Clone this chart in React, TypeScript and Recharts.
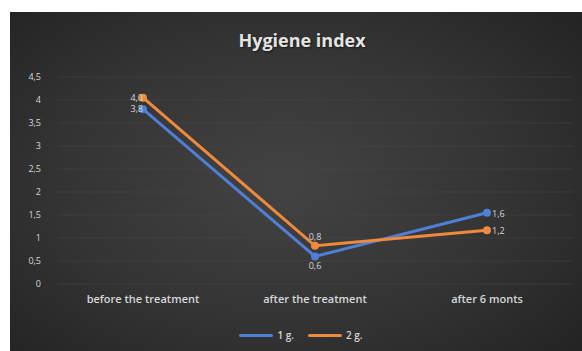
import {
  CartesianGrid,
  LabelList,
  Line,
  LineChart,
  XAxis,
  YAxis,
} from "recharts";

// Hygiene index per group.
const categories = ["before the treatment", "after the treatment", "after 6 monts"];
const group1 = [3.8, 0.6, 1.55];
const group2 = [4.05, 0.83, 1.17];
const yTicks = [0, 0.5, 1, 1.5, 2, 2.5, 3, 3.5, 4, 4.5];

const BLUE = "#4f7fd6";
const ORANGE = "#f08a3c";
const TEXT = "#d6d6d6";
const FONT = "'Open Sans', 'Liberation Sans', sans-serif";

const data = categories.map((c, i) => ({
  name: c,
  g1: group1[i],
  g2: group2[i],
}));

const comma = (v: number) => String(v).replace(".", ",");

function makeLabel(below: boolean) {
  return (props: any) => {
    const { x, y, value, index } = props;
    let dx = 0;
    let dy = below ? 13 : -6;
    let anchor: "start" | "middle" | "end" = "middle";
    if (index === 0) {
      dx = 0;
      dy = 3;
      anchor = "end";
    } else if (index === 2) {
      dx = 5;
      dy = 4;
      anchor = "start";
    }
    return (
      <text
        x={x + dx}
        y={y + dy}
        textAnchor={anchor}
        fill={TEXT}
        fontSize={9}
        fontFamily={FONT}
      >
        {Number(value).toFixed(1).replace(".", ",")}
      </text>
    );
  };
}

function ChartLegend() {
  const items = [
    { label: "1 g.", color: BLUE },
    { label: "2 g.", color: ORANGE },
  ];
  return (
    <div
      style={{
        display: "flex",
        justifyContent: "center",
        gap: 14,
        fontFamily: FONT,
        fontSize: 10,
        fontWeight: 600,
        color: TEXT,
        marginLeft: 10,
      }}
    >
      {items.map((it) => (
        <div key={it.label} style={{ display: "flex", alignItems: "center", gap: 4 }}>
          <span
            style={{
              display: "inline-block",
              width: 34,
              height: 3,
              background: it.color,
              borderRadius: 2,
            }}
          />
          <span>{it.label}</span>
        </div>
      ))}
    </div>
  );
}

export default function App() {
  return (
    <div style={{ width: 582, height: 351, background: "#fff", position: "relative" }}>
      <style>{"body{margin:0}"}</style>
      <div
        style={{
          position: "absolute",
          left: 10,
          top: 12,
          width: 572,
          height: 339,
          background:
            "radial-gradient(ellipse 70% 75% at 48% 50%, #434343 0%, #343434 55%, #232323 100%)",
          overflow: "hidden",
        }}
      >
        <div
          style={{
            position: "absolute",
            top: 16,
            left: 0,
            width: 572,
            textAlign: "center",
            fontFamily: FONT,
            fontWeight: 700,
            fontSize: 18,
            color: "#e4e4e4",
            textShadow: "1px 1px 2px rgba(0,0,0,0.6)",
            paddingLeft: 12,
            boxSizing: "border-box",
          }}
        >
          Hygiene index
        </div>
        <LineChart
          width={572}
          height={300}
          data={data}
          margin={{ top: 65, right: 9, bottom: 0, left: 0 }}
          style={{ position: "absolute", left: 0, top: 0 }}
        >
          <CartesianGrid stroke="#474747" strokeOpacity={0.5} vertical={false} />
          <XAxis
            dataKey="name"
            scale="band"
            axisLine={false}
            tickLine={false}
            tick={{ fill: TEXT, fontSize: 11, fontWeight: 600, fontFamily: FONT }}
            tickMargin={5}
            height={28}
            interval={0}
          />
          <YAxis
            domain={[0, 4.5]}
            ticks={yTicks}
            axisLine={false}
            tickLine={false}
            tick={{ fill: TEXT, fontSize: 9, fontFamily: FONT }}
            tickFormatter={comma}
            width={47}
            tickMargin={10}
          />
          <Line
            dataKey="g1"
            stroke={BLUE}
            strokeWidth={3}
            dot={{ r: 2.5, fill: BLUE, stroke: BLUE }}
            isAnimationActive={false}
          >
            <LabelList dataKey="g1" content={makeLabel(true)} />
          </Line>
          <Line
            dataKey="g2"
            stroke={ORANGE}
            strokeWidth={3}
            dot={{ r: 2.5, fill: ORANGE, stroke: ORANGE }}
            isAnimationActive={false}
          >
            <LabelList dataKey="g2" content={makeLabel(false)} />
          </Line>
        </LineChart>
        <div style={{ position: "absolute", left: 0, top: 316, width: 572 }}>
          <ChartLegend />
        </div>
      </div>
    </div>
  );
}
